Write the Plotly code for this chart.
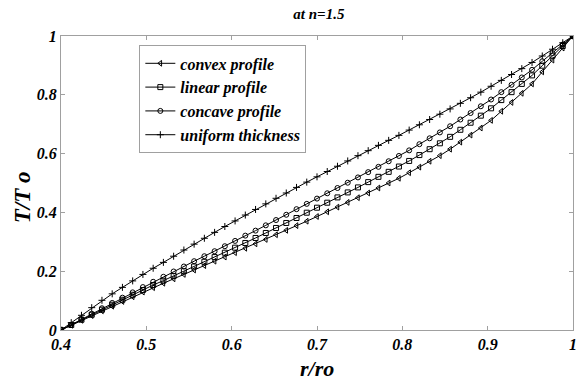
import plotly.graph_objects as go

r = [0.400,0.412,0.424,0.436,0.448,0.460,0.472,0.484,0.496,0.508,0.520,0.532,0.544,0.556,0.568,0.580,0.592,0.604,0.616,0.628,0.640,0.652,0.664,0.676,0.688,0.700,0.712,0.724,0.736,0.748,0.760,0.772,0.784,0.796,0.808,0.820,0.832,0.844,0.856,0.868,0.880,0.892,0.904,0.916,0.928,0.940,0.952,0.964,0.976,0.988,1.000]

convex = [0,0.016,0.033,0.049,0.065,0.081,0.097,0.113,0.129,0.144,0.159,0.174,0.189,0.204,0.219,0.234,0.248,0.263,0.278,0.293,0.308,0.324,0.339,0.355,0.370,0.386,0.402,0.418,0.434,0.450,0.466,0.483,0.500,0.516,0.535,0.554,0.574,0.593,0.615,0.639,0.663,0.687,0.713,0.744,0.774,0.805,0.837,0.878,0.918,0.959,1.0]

linear = [0,0.017,0.035,0.052,0.069,0.086,0.103,0.120,0.136,0.153,0.168,0.184,0.200,0.216,0.232,0.248,0.263,0.280,0.296,0.313,0.330,0.347,0.364,0.381,0.399,0.416,0.433,0.451,0.468,0.485,0.503,0.521,0.538,0.556,0.575,0.595,0.615,0.635,0.657,0.681,0.705,0.729,0.754,0.782,0.809,0.837,0.866,0.899,0.933,0.966,1.0]

concave = [0,0.018,0.037,0.055,0.074,0.092,0.110,0.128,0.146,0.164,0.181,0.199,0.216,0.234,0.251,0.268,0.285,0.303,0.321,0.338,0.356,0.374,0.392,0.411,0.429,0.447,0.465,0.483,0.501,0.519,0.537,0.555,0.574,0.592,0.611,0.632,0.652,0.672,0.693,0.716,0.738,0.761,0.784,0.809,0.834,0.859,0.885,0.914,0.942,0.971,1.0]

uniform = [0,0.025,0.050,0.076,0.101,0.123,0.145,0.167,0.189,0.210,0.230,0.251,0.272,0.292,0.312,0.332,0.352,0.371,0.391,0.410,0.429,0.448,0.466,0.485,0.503,0.521,0.539,0.557,0.575,0.593,0.610,0.628,0.645,0.662,0.680,0.698,0.716,0.734,0.752,0.771,0.790,0.809,0.829,0.849,0.869,0.889,0.910,0.932,0.955,0.977,1.0]

names = ["convex profile", "linear profile", "concave profile", "uniform thickness"]
series = [convex, linear, concave, uniform]
symbols = ["triangle-left-open", "square-open", "circle-open", "cross-thin-open"]

FONT = "Liberation Serif"

def f(size):
    return dict(family=FONT, size=size, color="black", weight="bold", style="italic")

fig = go.Figure()
for name, ys, sym in zip(names, series, symbols):
    fig.add_trace(go.Scatter(
        x=r, y=ys, name=name, mode="lines+markers",
        line=dict(color="black", width=1),
        marker=dict(symbol=sym, size=5, color="black",
                    line=dict(color="black", width=1)),
    ))

axis_common = dict(
    showgrid=False, zeroline=False, showline=True, mirror="ticks",
    linecolor="#a0a0a0", linewidth=1, ticks="inside", ticklen=4,
    tickcolor="#a0a0a0", tickfont=f(16),
)

fig.update_layout(
    width=584, height=383,
    margin=dict(l=61, r=7, t=36, b=53),
    paper_bgcolor="white", plot_bgcolor="white",
    showlegend=True,
    title=dict(text="at n=1.5", x=0.546, xanchor="center", y=0.963, yanchor="middle",
               font=f(15)),
    legend=dict(x=0.153, y=0.968, xanchor="left", yanchor="top",
                bgcolor="white", bordercolor="#a0a0a0", borderwidth=1,
                font=f(16), tracegroupgap=0, itemwidth=30),
    xaxis=dict(range=[0.4, 1.0], tickvals=[0.4, 0.5, 0.6, 0.7, 0.8, 0.9, 1.0],
               ticktext=["0.4", "0.5", "0.6", "0.7", "0.8", "0.9", "1"],
               **axis_common),
    yaxis=dict(range=[0, 1.0], tickvals=[0, 0.2, 0.4, 0.6, 0.8, 1.0],
               ticktext=["0", "0.2", "0.4", "0.6", "0.8", "1"],
               **axis_common),
    annotations=[
        dict(text="r/ro", xref="paper", yref="paper", x=0.5, y=-0.132,
             xanchor="center", yanchor="middle", showarrow=False, font=f(22)),
        dict(text="T/T o", xref="paper", yref="paper", x=-0.075, y=0.45,
             xanchor="center", yanchor="middle", showarrow=False, textangle=-90,
             font=f(23)),
    ],
)

fig.write_html("out.html")
